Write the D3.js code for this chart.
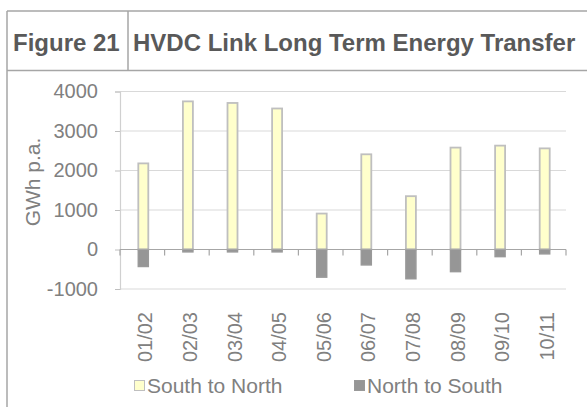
<!DOCTYPE html>
<html>
<head>
<meta charset="utf-8">
<script src="https://cdn.jsdelivr.net/npm/d3@7"></script>
<style>
  body { margin: 0; background: #fff; }
  svg { display: block; font-family: "Liberation Sans", Arial, sans-serif; }
</style>
</head>
<body>
<div id="chart"></div>
<script>
// Data
const years = ["01/02", "02/03", "03/04", "04/05", "05/06", "06/07", "07/08", "08/09", "09/10", "10/11"];
const southToNorth = [2180, 3750, 3710, 3570, 910, 2410, 1350, 2580, 2630, 2560];
const northToSouth = [-430, -60, -60, -60, -700, -390, -740, -560, -180, -110];
const yTicks = [-1000, 0, 1000, 2000, 3000, 4000];
const seriesNames = ["South to North", "North to South"];

const width = 587, height = 407;
const frameColor = "#a6a6a6";
const textColor = "#808080";

const svg = d3.select("#chart")
  .append("svg")
  .attr("width", width)
  .attr("height", height);

// Table frame around the figure
const frame = svg.append("g").attr("stroke", frameColor).attr("stroke-width", 1.5);
frame.append("line").attr("x1", 7).attr("x2", width).attr("y1", 11).attr("y2", 11);
frame.append("line").attr("x1", 7).attr("x2", width).attr("y1", 70.5).attr("y2", 70.5);
frame.append("line").attr("x1", 7).attr("x2", 7).attr("y1", 11).attr("y2", height);
frame.append("line").attr("x1", 128).attr("x2", 128).attr("y1", 11).attr("y2", 70.5);

// Title cells
svg.append("text")
  .attr("x", 13).attr("y", 51)
  .style("font-size", "24px").style("font-weight", "bold")
  .attr("fill", "#595959")
  .text("Figure 21");

svg.append("text")
  .attr("x", 133).attr("y", 51)
  .style("font-size", "24px").style("font-weight", "bold")
  .attr("fill", "#595959")
  .text("HVDC Link Long Term Energy Transfer");

// Plot area
const plot = { left: 120, right: 566, top: 91.5, bottom: 289 };

const x = d3.scaleBand()
  .domain(years)
  .range([plot.left, plot.right]);

const y = d3.scaleLinear()
  .domain([-1000, 4000])
  .range([plot.bottom, plot.top]);

// Gridlines
svg.append("g")
  .selectAll("line")
  .data(yTicks)
  .join("line")
  .attr("x1", plot.left).attr("x2", plot.right)
  .attr("y1", d => y(d)).attr("y2", d => y(d))
  .attr("stroke", "#d9d9d9")
  .attr("stroke-width", 1.2);

// Y axis
const yAxis = svg.append("g")
  .attr("transform", `translate(${plot.left},0)`)
  .call(d3.axisLeft(y).tickValues(yTicks).tickSize(5).tickPadding(17).tickFormat(d => String(d)));
yAxis.select(".domain").attr("stroke", "#d0d0d0").attr("stroke-width", 1.2);
yAxis.selectAll(".tick line").attr("stroke", "#bfbfbf");
yAxis.selectAll(".tick text")
  .attr("fill", textColor)
  .style("font-size", "20px")
  .style("font-family", "Liberation Sans, Arial, sans-serif");

svg.append("text")
  .attr("transform", `translate(40,182) rotate(-90)`)
  .attr("text-anchor", "middle")
  .attr("fill", textColor)
  .style("font-size", "21px")
  .text("GWh p.a.");

// Bars
const barW = 10;
svg.append("g")
  .selectAll("rect")
  .data(years)
  .join("rect")
  .attr("x", (d) => x(d) + x.bandwidth() / 2 - barW / 2 + 1)
  .attr("y", (d, i) => y(southToNorth[i]))
  .attr("width", barW)
  .attr("height", (d, i) => y(0) - y(southToNorth[i]))
  .attr("fill", "#ffffcc")
  .attr("stroke", "#bfbfbf")
  .attr("stroke-width", 1.8);

svg.append("g")
  .selectAll("rect")
  .data(years)
  .join("rect")
  .attr("x", (d) => x(d) + x.bandwidth() / 2 - barW / 2 + 1)
  .attr("y", y(0))
  .attr("width", barW)
  .attr("height", (d, i) => y(northToSouth[i]) - y(0))
  .attr("fill", "#969696")
  .attr("stroke", "#999999")
  .attr("stroke-width", 1.5);

// Zero axis with category ticks
svg.append("line")
  .attr("x1", plot.left).attr("x2", plot.right)
  .attr("y1", y(0)).attr("y2", y(0))
  .attr("stroke", "#a6a6a6")
  .attr("stroke-width", 1.2);

const boundaries = years.map(d => x(d)).concat([plot.right]);
svg.append("g")
  .selectAll("line")
  .data(boundaries)
  .join("line")
  .attr("x1", d => d).attr("x2", d => d)
  .attr("y1", y(0)).attr("y2", y(0) + 6)
  .attr("stroke", "#a6a6a6")
  .attr("stroke-width", 1.2);

// Category labels (rotated)
svg.append("g")
  .selectAll("text")
  .data(years)
  .join("text")
  .attr("transform", d => `translate(${x(d) + x.bandwidth() / 2 + 10},312) rotate(-90)`)
  .attr("text-anchor", "end")
  .attr("fill", textColor)
  .style("font-size", "20px")
  .text(d => d);

// Legend
const legendX = [134, 354];
const legendFill = ["#ffffcc", "#969696"];
const legendStroke = ["#bfbfbf", "#999999"];
const legend = svg.append("g")
  .selectAll("g")
  .data(seriesNames)
  .join("g")
  .attr("transform", (d, i) => `translate(${legendX[i]},380)`);

legend.append("rect")
  .attr("x", 0.5).attr("y", 0.5)
  .attr("width", 10).attr("height", 10)
  .attr("fill", (d, i) => legendFill[i])
  .attr("stroke", (d, i) => legendStroke[i])
  .attr("stroke-width", 1);

legend.append("text")
  .attr("x", 13).attr("y", 13)
  .attr("fill", textColor)
  .style("font-size", "21px")
  .text(d => d);
</script>
</body>
</html>
